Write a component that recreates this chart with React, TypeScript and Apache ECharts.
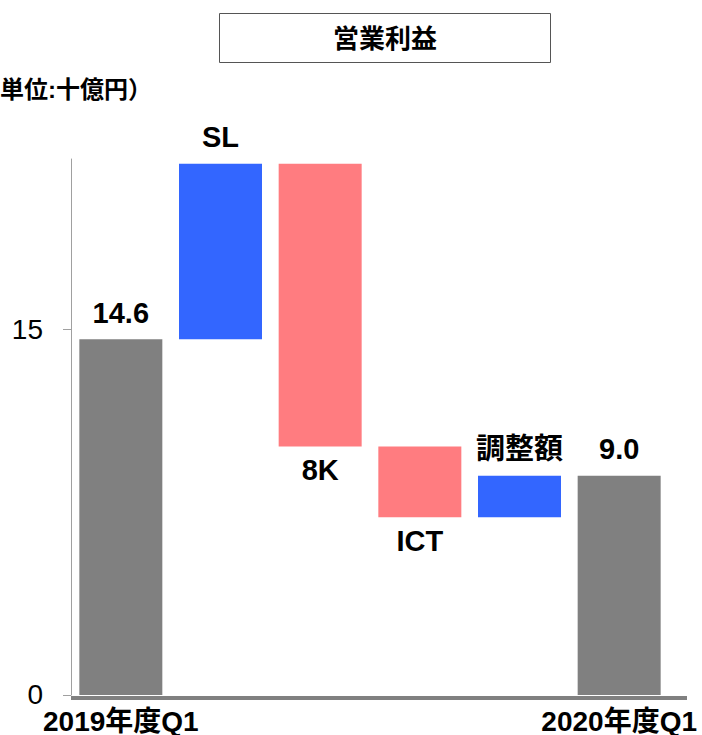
import React, { useEffect, useRef } from "react";
import * as echarts from "echarts";

const categories = ["2019年度Q1", "SL", "8K", "ICT", "調整額", "2020年度Q1"];
const baseValues = [0, 14.6, 10.2, 7.3, 7.3, 0];
const deltaValues = [14.6, 7.2, 11.6, 2.9, 1.7, 9.0];
const barColors = ["#808080", "#3366ff", "#ff7c80", "#ff7c80", "#3366ff", "#808080"];
const labelTexts = ["14.6", "SL", "8K", "ICT", "調整額", "9.0"];
const labelPositions = ["top", "top", "bottom", "bottom", "top", "top"];
const yTicks = [0, 15];
const titleText = "営業利益";
const unitText = "単位:十億円）";

const FONT = "'Liberation Sans', Arial, 'Noto Sans CJK JP', sans-serif";

export default function App() {
  const ref = useRef<HTMLDivElement>(null);
  useEffect(() => {
    document.body.style.margin = "0";
    const chart = echarts.init(ref.current!, null, { renderer: "svg" });
    chart.setOption({
      animation: false,
      backgroundColor: "#ffffff",
      grid: { left: 71, width: 598, top: 159, bottom: 37, containLabel: false },
      xAxis: {
        type: "category",
        data: categories,
        axisLine: { show: false },
        axisTick: { show: false },
        axisLabel: {
          interval: 0,
          margin: 12,
          color: "#000",
          fontFamily: FONT,
          fontWeight: "bold",
          fontSize: 28,
          formatter: (v: string, i: number) => (i === 0 || i === categories.length - 1 ? v : ""),
        },
      },
      yAxis: {
        type: "value",
        min: 0,
        max: 22,
        splitLine: { show: false },
        axisLine: { show: true, lineStyle: { color: "#a0a0a0", width: 1 } },
        axisTick: { show: true, length: 8, customValues: yTicks, lineStyle: { color: "#a0a0a0" } },
        axisLabel: {
          customValues: yTicks,
          margin: 28,
          color: "#000",
          fontFamily: FONT,
          fontSize: 28,
        },
      },
      series: [
        {
          type: "bar",
          stack: "w",
          data: baseValues,
          itemStyle: { color: "transparent" },
          barWidth: 83,
          silent: true,
        },
        {
          type: "bar",
          stack: "w",
          barWidth: 83,
          data: deltaValues.map((v, i) => ({
            value: v,
            itemStyle: { color: barColors[i] },
            label: {
              show: true,
              position: labelPositions[i],
              distance: labelPositions[i] === "top" ? 12 : 9,
              formatter: labelTexts[i],
              color: "#000",
              fontFamily: FONT,
              fontWeight: "bold",
              fontSize: 29,
            },
          })),
        },
      ],
      graphic: [
        {
          type: "rect",
          shape: { x: 71, y: 696, width: 616, height: 4 },
          style: { fill: "#808080" },
          z: 10,
        },
        {
          type: "rect",
          shape: { x: 219.5, y: 13.5, width: 331, height: 49 },
          style: { fill: "#fff", stroke: "#555", lineWidth: 1 },
        },
        {
          type: "text",
          x: 385,
          y: 39,
          style: {
            text: titleText,
            fill: "#000",
            font: `bold 26px ${FONT}`,
            align: "center",
            verticalAlign: "middle",
          },
        },
        {
          type: "text",
          x: 0,
          y: 89,
          style: {
            text: unitText,
            fill: "#000",
            font: `bold 24px ${FONT}`,
            align: "left",
            verticalAlign: "middle",
          },
        },
      ],
    });
    return () => chart.dispose();
  }, []);
  return <div ref={ref} style={{ position: "absolute", left: 0, top: 0, width: 702, height: 735 }} />;
}
